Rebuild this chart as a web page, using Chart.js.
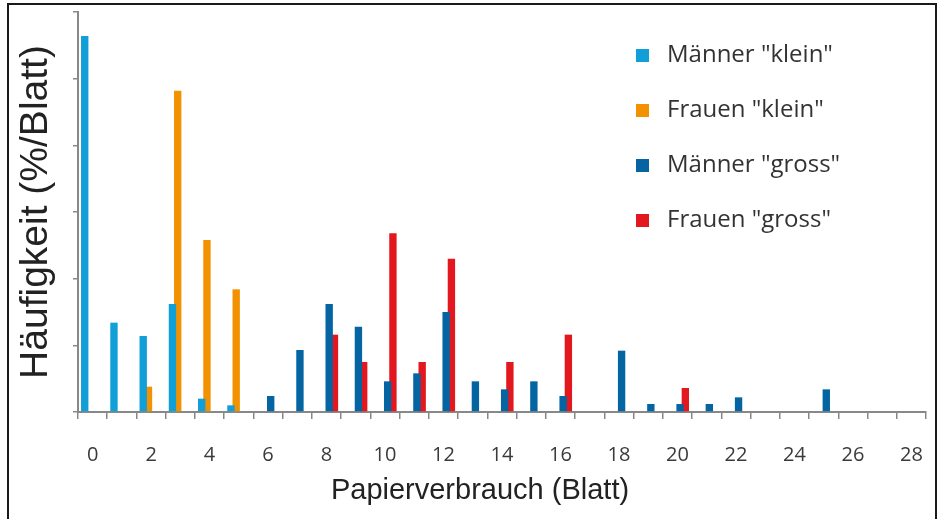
<!DOCTYPE html>
<html>
<head>
<meta charset="utf-8">
<script src="https://cdn.jsdelivr.net/npm/chart.js@4.4.0/dist/chart.umd.min.js"></script>
<style>
  body { margin: 0; background: #fff; }
  #wrap { position: relative; width: 942px; height: 519px; overflow: hidden; }
  #frame { position: absolute; left: 7px; top: 3px; width: 926px; height: 540px;
           border: 2px solid #1a1a1a; pointer-events: none; }
</style>
</head>
<body>
<div id="wrap">
  <canvas id="chart" width="942" height="519"></canvas>
  <div id="frame"></div>
</div>
<script>
// Papierverbrauch in Blatt (0..28)
var blatt = [0, 1, 2, 3, 4, 5, 6, 7, 8, 9, 10, 11, 12, 13, 14, 15, 16, 17, 18, 19, 20, 21, 22, 23, 24, 25, 26, 27, 28];

var maennerKlein = [28.2, 6.7, 5.7, 8.1, 1.0, 0.5, null, null, null, null, null, null, null, null, null,
                    null, null, null, null, null, null, null, null, null, null, null, null, null, null];
var frauenKlein  = [null, null, 1.9, 24.1, 12.9, 9.2, null, null, null, null, null, null, null, null, null,
                    null, null, null, null, null, null, null, null, null, null, null, null, null, null];
var maennerGross = [null, null, null, null, null, null, 1.2, 4.65, 8.1, 6.4, 2.3, 2.9, 7.5, 2.3, 1.7,
                    2.3, 1.2, null, 4.6, 0.6, 0.6, 0.6, 1.1, null, null, 1.7, null, null, null];
var frauenGross  = [null, null, null, null, null, null, null, null, 5.8, 3.75, 13.4, 3.75, 11.5, null, 3.75,
                    null, 5.8, null, null, null, 1.8, null, null, null, null, null, null, null, null];

var seriesNames  = ['Männer "klein"', 'Frauen "klein"', 'Männer "gross"', 'Frauen "gross"'];
var seriesColors = ['#109fd6', '#f39200', '#0565a3', '#e3171e'];
var xTitle = 'Papierverbrauch (Blatt)';

// legend inside the plot (top right) + x title, which sits a bit left of centre
var extras = {
  id: 'extras',
  afterDraw: function (chart) {
    var ctx = chart.ctx;
    var ys = [55, 110, 165, 220];
    ctx.save();
    ctx.font = '24px "Open Sans"';
    ctx.textBaseline = 'middle';
    ctx.textAlign = 'left';
    chart.data.datasets.forEach(function (ds, i) {
      ctx.fillStyle = ds.backgroundColor;
      ctx.fillRect(636, ys[i] - 6, 13, 13);
      ctx.fillStyle = '#333';
      ctx.fillText(ds.label, 667, ys[i]);
    });
    ctx.font = '29px "Liberation Sans"';
    ctx.textAlign = 'center';
    ctx.fillStyle = '#222';
    ctx.fillText(xTitle, 480, 491);
    ctx.restore();
  }
};

var datasets = [maennerKlein, frauenKlein, maennerGross, frauenGross].map(function (d, i) {
  return {
    label: seriesNames[i],
    data: d,
    backgroundColor: seriesColors[i],
    categoryPercentage: 0.72,
    barPercentage: 1.4
  };
});

new Chart(document.getElementById('chart'), {
  type: 'bar',
  data: { labels: blatt, datasets: datasets },
  plugins: [extras],
  options: {
    responsive: false,
    animation: false,
    layout: { padding: { left: 0, right: 16, top: 12, bottom: 0 } },
    plugins: { legend: { display: false }, tooltip: { enabled: false } },
    scales: {
      x: {
        afterFit: function (s) { s.height = 107; s.paddingRight = 0; s.paddingLeft = 0; },
        border: { color: '#888', width: 2 },
        grid: { drawOnChartArea: false, drawTicks: true, tickLength: 7, color: '#888', lineWidth: 1.5 },
        ticks: {
          autoSkip: false,
          maxRotation: 0,
          padding: 24,
          color: '#3a3a3a',
          font: { family: 'Open Sans', size: 20 },
          callback: function (v, i) { return blatt[i] % 2 === 0 ? String(blatt[i]) : ''; }
        }
      },
      y: {
        min: 0,
        max: 30,
        afterFit: function (s) { s.width = 78; },
        border: { color: '#888', width: 2 },
        grid: { drawOnChartArea: false, drawTicks: true, tickLength: 5, color: '#888', lineWidth: 1.5 },
        ticks: { display: false, stepSize: 5 },
        title: {
          display: true,
          text: 'Häufigkeit (%/Blatt)',
          color: '#222',
          font: { family: 'Liberation Sans', size: 39 },
          padding: { top: 13, bottom: 0 }
        }
      }
    }
  }
});
</script>
</body>
</html>
